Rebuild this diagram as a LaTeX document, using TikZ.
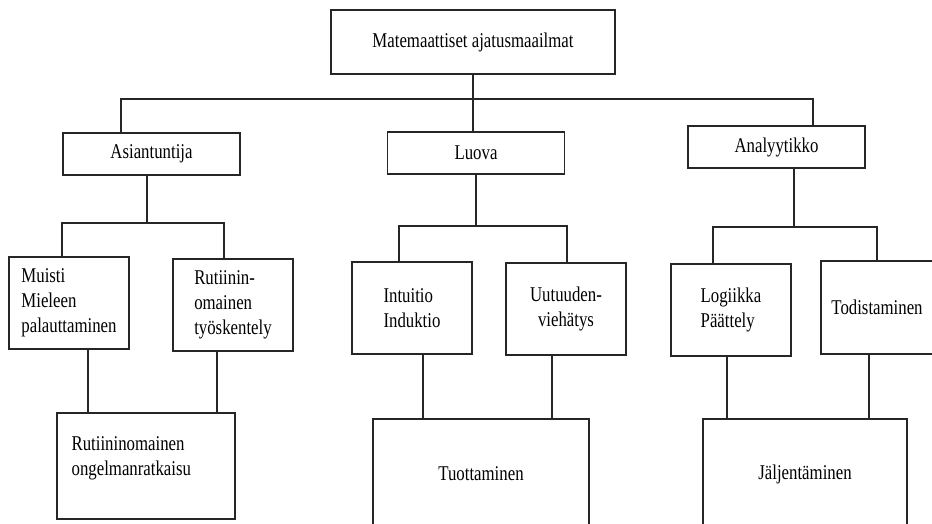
\documentclass[tikz,border=0pt]{standalone}
\usepackage{fontspec}
\setmainfont[FakeStretch=0.8]{Liberation Serif}
\usetikzlibrary{positioning}

\begin{document}
\begin{tikzpicture}[
    x=1pt, y=-1pt,
    every node/.style={
        draw=black!85,
        line width=1.2pt,
        align=center,
        inner sep=0pt,
        font=\fontsize{21}{25}\selectfont
    },
    small/.style={minimum width=120pt, minimum height=92pt},
    wide/.style={minimum width=177pt, minimum height=42pt},
    plain/.style={draw=none},
    line/.style={draw=black!85, line width=1.2pt}
]
\useasboundingbox (0,0) rectangle (932,524);
\clip (0,0) rectangle (932,524);

% ======================
% Top level
% ======================
\node[minimum width=284pt, minimum height=64pt] (maailmat) at (473,42) {Matemaattiset ajatusmaailmat};

\node[wide] (asiantuntija) at (151.5,154) {Asiantuntija};
\node[wide] (luova) at (476,153) {Luova};
\node[wide] (analyytikko) at (776.5,147) {Analyytikko};

\coordinate (bus_l) at (121,99);
\coordinate (bus_r) at (813,99);

\draw[line] (maailmat.south) -- (maailmat.south |- luova.north);
\draw[line] (bus_l |- asiantuntija.north) -- (bus_l) -- (bus_r) -- (bus_r |- analyytikko.north);

% ======================
% Asiantuntija column
% ======================
\node[small, align=left] (muisti) at (69,303) {Muisti\\Mieleen\\palauttaminen};
\node[small, align=left] (rutiinin) at (233,305) {Rutiinin-\\omainen\\työskentely};
\node[minimum width=178pt, minimum height=106pt] (ongelma) at (146,466) {};
\node[plain, align=left, anchor=west] (ongelma_txt) at (71,458) {Rutiininomainen\\ongelmanratkaisu};

\coordinate (asi_l) at (62,223);
\coordinate (asi_m) at (147,223);
\coordinate (asi_r) at (224,223);
\coordinate (ong_l) at (88,413);
\coordinate (ong_r) at (217,413);

\draw[line] (asi_m |- asiantuntija.south) -- (asi_m);
\draw[line] (asi_l |- muisti.north) -- (asi_l) -- (asi_r) -- (asi_r |- rutiinin.north);
\draw[line] (ong_l |- muisti.south) -- (ong_l |- ongelma.north);
\draw[line] (ong_r |- rutiinin.south) -- (ong_r |- ongelma.north);

% ======================
% Luova column
% ======================
\node[small, align=left] (intuitio) at (412,308) {Intuitio\\Induktio};
\node[small] (uutuus) at (566,309) {Uutuuden-\\viehätys};
\node[minimum width=216pt, minimum height=110pt] (tuottaminen) at (481,474) {Tuottaminen};

\coordinate (luo_l) at (399,226);
\coordinate (luo_r) at (567,226);
\coordinate (tuo_l) at (423,419);
\coordinate (tuo_r) at (552,419);

\draw[line] (luova.south) -- (luova.south |- luo_l);
\draw[line] (luo_l |- intuitio.north) -- (luo_l) -- (luo_r) -- (luo_r |- uutuus.north);
\draw[line] (tuo_l |- intuitio.south) -- (tuo_l |- tuottaminen.north);
\draw[line] (tuo_r |- uutuus.south) -- (tuo_r |- tuottaminen.north);

% ======================
% Analyytikko column
% ======================
\node[small, align=left] (logiikka) at (731,310) {Logiikka\\Päättely};
\node[minimum width=112pt, minimum height=93pt] (todistaminen) at (877,307.5) {Todistaminen};
\node[minimum width=204pt, minimum height=110pt] (jaljentaminen) at (805,474) {Jäljentäminen};

\coordinate (ana_l) at (713,227);
\coordinate (ana_m) at (794,227);
\coordinate (ana_r) at (877,227);
\coordinate (jal_l) at (727,419);
\coordinate (jal_r) at (869,419);

\draw[line] (ana_m |- analyytikko.south) -- (ana_m);
\draw[line] (ana_l |- logiikka.north) -- (ana_l) -- (ana_r) -- (ana_r |- todistaminen.north);
\draw[line] (jal_l |- logiikka.south) -- (jal_l |- jaljentaminen.north);
\draw[line] (jal_r |- todistaminen.south) -- (jal_r |- jaljentaminen.north);

\end{tikzpicture}
\end{document}
